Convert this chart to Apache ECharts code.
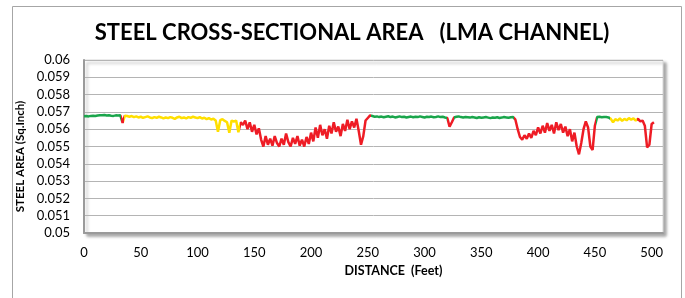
<!DOCTYPE html>
<html>
<head>
<meta charset="utf-8">
<script src="https://cdn.jsdelivr.net/npm/echarts@6/dist/echarts.min.js"></script>
<style>
  html, body { margin: 0; padding: 0; background: #fff; }
  #chart { width: 685px; height: 298px; }
</style>
</head>
<body>
<div id="chart"></div>
<script>
// sampling step along the channel (feet)
const STEP_FT = 2;

// steel area readings, one every STEP_FT feet from 0 ft
const areaValues = [
  // 0 ft
  0.05675, 0.05676, 0.05674, 0.05677, 0.05678, 0.05676, 0.05679, 0.05681, 0.05680, 0.05682,
  // 20 ft
  0.05679, 0.05680, 0.05678, 0.05677, 0.05680, 0.05679, 0.05680, 0.05636, 0.05678, 0.05676,
  // 40 ft
  0.05672, 0.05676, 0.05670, 0.05674, 0.05668, 0.05672, 0.05666, 0.05670, 0.05674, 0.05668,
  // 60 ft
  0.05664, 0.05670, 0.05666, 0.05672, 0.05668, 0.05662, 0.05668, 0.05664, 0.05670, 0.05666,
  // 80 ft
  0.05660, 0.05668, 0.05672, 0.05664, 0.05668, 0.05662, 0.05670, 0.05666, 0.05672, 0.05668,
  // 100 ft
  0.05664, 0.05670, 0.05662, 0.05666, 0.05658, 0.05664, 0.05656, 0.05660, 0.05650, 0.05585,
  // 120 ft
  0.05652, 0.05658, 0.05648, 0.05640, 0.05580, 0.05650, 0.05644, 0.05650, 0.05582, 0.05640,
  // 140 ft
  0.05625, 0.05650, 0.05600, 0.05640, 0.05585, 0.05625, 0.05570, 0.05605, 0.05540, 0.05500,
  // 160 ft
  0.05560, 0.05510, 0.05545, 0.05505, 0.05560, 0.05520, 0.05500, 0.05545, 0.05510, 0.05575,
  // 180 ft
  0.05525, 0.05500, 0.05550, 0.05515, 0.05560, 0.05505, 0.05540, 0.05500, 0.05555, 0.05515,
  // 200 ft
  0.05580, 0.05530, 0.05610, 0.05550, 0.05625, 0.05565, 0.05600, 0.05545, 0.05620, 0.05575,
  // 220 ft
  0.05640, 0.05585, 0.05615, 0.05560, 0.05630, 0.05590, 0.05655, 0.05600, 0.05645, 0.05610,
  // 240 ft
  0.05660, 0.05590, 0.05510, 0.05560, 0.05650, 0.05665, 0.05680, 0.05676, 0.05672, 0.05674,
  // 260 ft
  0.05670, 0.05673, 0.05669, 0.05672, 0.05675, 0.05670, 0.05673, 0.05668, 0.05671, 0.05674,
  // 280 ft
  0.05670, 0.05672, 0.05668, 0.05671, 0.05673, 0.05669, 0.05672, 0.05670, 0.05674, 0.05671,
  // 300 ft
  0.05668, 0.05672, 0.05670, 0.05673, 0.05669, 0.05671, 0.05674, 0.05670, 0.05672, 0.05668,
  // 320 ft
  0.05665, 0.05615, 0.05640, 0.05668, 0.05672, 0.05674, 0.05670, 0.05668, 0.05671, 0.05669,
  // 340 ft
  0.05667, 0.05670, 0.05668, 0.05665, 0.05669, 0.05666, 0.05668, 0.05670, 0.05667, 0.05664,
  // 360 ft
  0.05668, 0.05666, 0.05669, 0.05665, 0.05667, 0.05670, 0.05668, 0.05666, 0.05669, 0.05670,
  // 380 ft
  0.05655, 0.05600, 0.05555, 0.05540, 0.05565, 0.05545, 0.05575, 0.05550, 0.05590, 0.05565,
  // 400 ft
  0.05610, 0.05575, 0.05620, 0.05580, 0.05635, 0.05590, 0.05625, 0.05575, 0.05640, 0.05595,
  // 420 ft
  0.05630, 0.05580, 0.05615, 0.05560, 0.05600, 0.05530, 0.05580, 0.05500, 0.05455, 0.05520,
  // 440 ft
  0.05600, 0.05645, 0.05610, 0.05500, 0.05480, 0.05620, 0.05670, 0.05672, 0.05669, 0.05671,
  // 460 ft
  0.05670, 0.05668, 0.05660, 0.05640, 0.05658, 0.05650, 0.05662, 0.05648, 0.05660, 0.05652,
  // 480 ft
  0.05664, 0.05655, 0.05662, 0.05650, 0.05660, 0.05645, 0.05650, 0.05620, 0.05495, 0.05510,
  // 500 ft
  0.05630, 0.05640
];

// colour zones along the distance axis (feet)
const GREEN = '#1aa54b';
const RED = '#ee1c25';
const YELLOW = '#ffdf00';
const zoneBreaks = [0, 33, 35.5, 137.5, 253, 319.5, 325.5, 379, 451, 463, 487.5, 520];
const zoneColors = [GREEN, RED, YELLOW, RED, GREEN, RED, GREEN, RED, GREEN, YELLOW, RED];

// axis ticks
const xTicks = { min: 0, max: 510, step: 50, lastLabel: 500 };
const yTicks = { min: 0.05, max: 0.06, step: 0.001 };

const seriesData = areaValues.map((v, i) => [i * STEP_FT, v]);
const pieces = zoneColors.map((c, i) => ({ gte: zoneBreaks[i], lt: zoneBreaks[i + 1], color: c }));

const FONT = 'Lato, "Open Sans", sans-serif';
const chart = echarts.init(document.getElementById('chart'));

chart.setOption({
  backgroundColor: '#fff',
  animation: false,
  title: {
    text: 'STEEL CROSS-SECTIONAL AREA   (LMA CHANNEL)',
    left: 347,
    textAlign: 'center',
    top: 17,
    textStyle: { fontFamily: FONT, fontWeight: 'bold', fontSize: 22, color: '#000' }
  },
  graphic: [{
    type: 'rect',
    shape: { x: 12.5, y: 6.5, width: 669, height: 300 },
    style: { fill: 'none', stroke: '#a6a6a6', lineWidth: 1 },
    z: -1
  }],
  grid: {
    left: 84, right: 22, top: 60, bottom: 65,
    show: true,
    backgroundColor: '#fff',
    borderColor: '#d9d9d9',
    borderWidth: 1,
    shadowColor: 'rgba(0,0,0,0.35)',
    shadowBlur: 3,
    shadowOffsetX: 3,
    shadowOffsetY: 3
  },
  visualMap: {
    type: 'piecewise',
    show: false,
    dimension: 0,
    pieces: pieces
  },
  xAxis: {
    type: 'value',
    min: xTicks.min,
    max: xTicks.max,
    interval: xTicks.step,
    name: 'DISTANCE  (Feet)',
    nameLocation: 'middle',
    nameGap: 31,
    nameTextStyle: { fontFamily: FONT, fontWeight: 'bold', fontSize: 12.5, color: '#000', padding: [0, 0, 0, 40] },
    axisLine: { lineStyle: { color: '#9a9a9a', width: 2 } },
    axisTick: { show: false },
    splitLine: { show: false },
    axisLabel: {
      margin: 13,
      fontFamily: FONT, fontSize: 13, color: '#000',
      formatter: v => (v > xTicks.lastLabel ? '' : String(v))
    }
  },
  yAxis: {
    type: 'value',
    min: yTicks.min,
    max: yTicks.max,
    interval: yTicks.step,
    name: 'STEEL AREA (Sq.Inch)',
    nameLocation: 'middle',
    nameGap: 52,
    nameTextStyle: { fontFamily: FONT, fontWeight: 'bold', fontSize: 11.5, color: '#000', padding: [0, 20, 0, 0] },
    axisLine: { show: true, lineStyle: { color: '#9a9a9a', width: 2 } },
    axisTick: { show: false },
    splitLine: { lineStyle: { color: '#b4b4b4', width: 1 } },
    axisLabel: {
      margin: 14,
      fontFamily: FONT, fontSize: 13, color: '#000',
      formatter: v => String(parseFloat(v.toFixed(3)))
    }
  },
  series: [{
    type: 'line',
    data: seriesData,
    showSymbol: false,
    lineStyle: { width: 2.5 }
  }]
});
</script>
</body>
</html>
